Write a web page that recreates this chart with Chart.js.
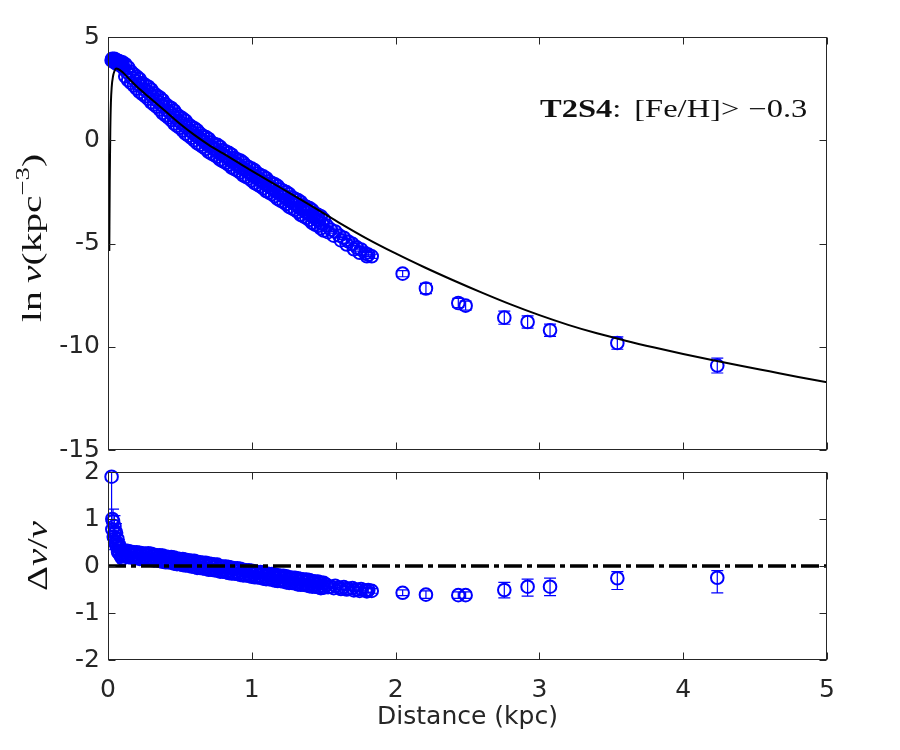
<!DOCTYPE html>
<html>
<head>
<meta charset="utf-8">
<script src="https://cdn.jsdelivr.net/npm/chart.js@4.4.1/dist/chart.umd.min.js"></script>
<style>
  html, body { margin: 0; padding: 0; background: #fff; }
  #wrap { position: relative; width: 900px; height: 750px; }
  canvas { position: absolute; left: 0; top: 0; }
</style>
</head>
<body>
<div id="wrap">
  <canvas id="topChart" width="900" height="750"></canvas>
  <canvas id="botChart" width="900" height="750"></canvas>
</div>
<script>
// distance of each measured bin (kpc)
const dist = [
  0.025, 0.035, 0.04, 0.045, 0.05, 0.055, 0.065, 0.07, 0.075, 0.085, 0.09, 0.095, 0.10,
  0.11, 0.13, 0.15, 0.17, 0.19, 0.21, 0.23, 0.25, 0.27, 0.29, 0.31, 0.33, 0.35, 0.37, 0.39,
  0.41, 0.43, 0.45, 0.47, 0.49, 0.51, 0.53, 0.55, 0.57, 0.59, 0.61, 0.63, 0.65, 0.67, 0.69,
  0.71, 0.73, 0.75, 0.77, 0.79, 0.81, 0.83, 0.85, 0.87, 0.89, 0.91, 0.93, 0.95, 0.97, 0.99,
  1.01, 1.03, 1.05, 1.07, 1.09, 1.11, 1.13, 1.15, 1.17, 1.19, 1.21, 1.23, 1.25, 1.27, 1.29,
  1.31, 1.33, 1.35, 1.37, 1.39, 1.41, 1.43, 1.45, 1.47, 1.49,
  1.52, 1.55, 1.58, 1.61, 1.64, 1.67, 1.70, 1.73, 1.76, 1.79,
  1.81, 1.834,
  2.049, 2.211, 2.436, 2.487, 2.756, 2.918, 3.074, 3.542, 4.237
];
// ln nu (kpc^-3)
const lnNu = [
  3.88, 3.92, 3.80, 3.90, 3.76, 3.88, 3.86, 3.72, 3.84, 3.80, 3.62, 3.74, 3.56,
  3.49, 3.31, 3.19, 3.01, 2.89, 2.72, 2.64, 2.47, 2.39, 2.23, 2.13, 1.97, 1.87, 1.71, 1.62,
  1.45, 1.36, 1.20, 1.10, 0.94, 0.85, 0.70, 0.62, 0.46, 0.38, 0.23, 0.17, 0.02, -0.05, -0.20,
  -0.25, -0.39, -0.44, -0.57, -0.63, -0.76, -0.82, -0.96, -1.00, -1.15, -1.19, -1.34, -1.39, -1.52, -1.58,
  -1.72, -1.76, -1.90, -1.96, -2.10, -2.14, -2.28, -2.34, -2.48, -2.52, -2.67, -2.71, -2.87, -2.91, -3.06,
  -3.09, -3.25, -3.29, -3.45, -3.48, -3.64, -3.68, -3.84, -3.87, -4.05,
  -4.13, -4.33, -4.42, -4.62, -4.72, -4.90, -5.02, -5.19, -5.29, -5.48,
  -5.54, -5.62,
  -6.46, -7.18, -7.88, -8.01, -8.59, -8.80, -9.20, -9.82, -10.91
];
const lnNuErr = [
  0, 0, 0, 0, 0, 0, 0, 0, 0, 0, 0, 0, 0,
  0, 0, 0, 0, 0, 0, 0, 0, 0, 0, 0, 0, 0, 0, 0,
  0, 0, 0, 0, 0, 0, 0, 0, 0, 0, 0, 0, 0, 0, 0,
  0, 0, 0, 0, 0, 0, 0, 0, 0, 0, 0, 0, 0, 0, 0,
  0, 0, 0, 0, 0, 0, 0, 0, 0, 0, 0, 0, 0, 0, 0,
  0, 0, 0, 0, 0, 0, 0, 0, 0, 0,
  0.08, 0.08, 0.08, 0.08, 0.08, 0.08, 0.08, 0.08, 0.08, 0.08,
  0.10, 0.10,
  0.15, 0.25, 0.22, 0.22, 0.32, 0.30, 0.30, 0.30, 0.36
];
// relative residual delta nu / nu
const resid = [
  1.90, 0.95, 0.62, 0.85, 0.50, 0.72, 0.58, 0.30, 0.46, 0.38, 0.20, 0.32, 0.16,
  0.30, 0.24, 0.27, 0.22, 0.25, 0.20, 0.24, 0.19, 0.23, 0.18, 0.21, 0.16, 0.19, 0.14, 0.17,
  0.12, 0.15, 0.10, 0.13, 0.08, 0.11, 0.06, 0.09, 0.04, 0.07, 0.02, 0.05, 0.00, 0.03, -0.02,
  0.01, -0.04, -0.01, -0.06, -0.03, -0.08, -0.05, -0.10, -0.07, -0.12, -0.09, -0.14, -0.11, -0.16, -0.13,
  -0.18, -0.15, -0.20, -0.17, -0.22, -0.19, -0.24, -0.21, -0.26, -0.23, -0.28, -0.25, -0.30, -0.27, -0.32,
  -0.29, -0.34, -0.31, -0.36, -0.33, -0.38, -0.35, -0.40, -0.37, -0.42,
  -0.40, -0.44, -0.42, -0.46, -0.45, -0.48, -0.47, -0.50, -0.49, -0.52,
  -0.51, -0.53,
  -0.57, -0.61, -0.62, -0.62, -0.51, -0.44, -0.44, -0.26, -0.25
];
const residErrLow = [
  1.10, 0.26, 0.20, 0.22, 0.15, 0.18, 0.12, 0.08, 0.10, 0.08, 0.05, 0.06, 0.05,
  0, 0, 0, 0, 0, 0, 0, 0, 0, 0, 0, 0, 0, 0, 0,
  0, 0, 0, 0, 0, 0, 0, 0, 0, 0, 0, 0, 0, 0, 0,
  0, 0, 0, 0, 0, 0, 0, 0, 0, 0, 0, 0, 0, 0, 0,
  0, 0, 0, 0, 0, 0, 0, 0, 0, 0, 0, 0, 0, 0, 0,
  0, 0, 0, 0, 0, 0, 0, 0, 0, 0,
  0.04, 0.04, 0.04, 0.04, 0.04, 0.04, 0.04, 0.04, 0.04, 0.04,
  0.05, 0.05,
  0.06, 0.08, 0.07, 0.07, 0.17, 0.20, 0.19, 0.24, 0.32
];
const residErrHigh = [
  1.10, 0.26, 0.20, 0.22, 0.15, 0.18, 0.12, 0.08, 0.10, 0.08, 0.05, 0.06, 0.05,
  0, 0, 0, 0, 0, 0, 0, 0, 0, 0, 0, 0, 0, 0, 0,
  0, 0, 0, 0, 0, 0, 0, 0, 0, 0, 0, 0, 0, 0, 0,
  0, 0, 0, 0, 0, 0, 0, 0, 0, 0, 0, 0, 0, 0, 0,
  0, 0, 0, 0, 0, 0, 0, 0, 0, 0, 0, 0, 0, 0, 0,
  0, 0, 0, 0, 0, 0, 0, 0, 0, 0,
  0.04, 0.04, 0.04, 0.04, 0.04, 0.04, 0.04, 0.04, 0.04, 0.04,
  0.05, 0.05,
  0.06, 0.08, 0.07, 0.07, 0.16, 0.16, 0.18, 0.14, 0.15
];

// further lines of sight in the dense inner region (scatter around the main band)
const extraDist = [
  0.03, 0.06, 0.08, 0.10,
  0.12, 0.14, 0.16, 0.18, 0.20, 0.22, 0.24, 0.26, 0.28, 0.30, 0.32, 0.34, 0.36, 0.38, 0.40,
  0.42, 0.44, 0.46, 0.48, 0.50, 0.52, 0.54, 0.56, 0.58, 0.60, 0.62, 0.64, 0.66, 0.68, 0.70,
  0.72, 0.74, 0.76, 0.78, 0.80, 0.82, 0.84, 0.86, 0.88, 0.90, 0.92, 0.94, 0.96, 0.98, 1.00,
  1.02, 1.04, 1.06, 1.08, 1.10, 1.12, 1.14, 1.16, 1.18, 1.20, 1.22, 1.24, 1.26, 1.28, 1.30,
  1.32, 1.34, 1.36, 1.38, 1.40, 1.42, 1.44, 1.46, 1.48, 1.50,
  1.53, 1.57, 1.62, 1.66, 1.71, 1.75, 1.80
];
const extraLnNu = [
  3.95, 3.70, 3.66, 3.78,
  3.68, 2.91, 3.32, 2.65, 3.08, 2.34, 2.77, 2.13, 2.59, 1.84, 2.27, 1.62, 2.07, 1.32, 1.75,
  1.10, 1.56, 0.81, 1.24, 0.60, 1.05, 0.32, 0.76, 0.12, 0.58, -0.14, 0.32, -0.32, 0.16, -0.56,
  -0.10, -0.72, -0.22, -0.94, -0.48, -1.09, -0.61, -1.32, -0.86, -1.47, -0.98, -1.70, -1.23, -1.85, -1.37,
  -2.08, -1.61, -2.23, -1.75, -2.46, -1.99, -2.61, -2.13, -2.84, -2.38, -2.99, -2.51, -3.23, -2.76, -3.37,
  -2.89, -3.61, -3.15, -3.76, -3.28, -4.00, -3.54, -4.15, -3.68, -4.37,
  -4.45, -4.62, -4.85, -5.05, -5.28, -5.45, -5.62
];
const extraResid = [
  0.78, 0.42, 0.26, 0.25,
  0.33, 0.19, 0.30, 0.18, 0.29, 0.15, 0.27, 0.15, 0.27, 0.13, 0.24, 0.12, 0.23, 0.09, 0.20,
  0.08, 0.19, 0.05, 0.16, 0.04, 0.15, 0.01, 0.12, -0.01, 0.11, -0.04, 0.08, -0.05, 0.07, -0.08,
  0.04, -0.09, 0.03, -0.12, -0.01, -0.13, -0.02, -0.16, -0.05, -0.17, -0.06, -0.20, -0.09, -0.21, -0.10,
  -0.24, -0.13, -0.25, -0.14, -0.28, -0.17, -0.29, -0.18, -0.32, -0.21, -0.33, -0.22, -0.36, -0.25, -0.37,
  -0.26, -0.40, -0.29, -0.41, -0.30, -0.44, -0.33, -0.45, -0.35, -0.46,
  -0.45, -0.47, -0.49, -0.50, -0.52, -0.53, -0.54
];

const extra2Dist = [
  0.03, 0.045, 0.06, 0.08, 0.10,
  0.12, 0.14, 0.16, 0.18, 0.20, 0.22, 0.24, 0.26, 0.28, 0.30, 0.32, 0.34, 0.36, 0.38, 0.40,
  0.42, 0.44, 0.46, 0.48, 0.50, 0.52, 0.54, 0.56, 0.58, 0.60, 0.62, 0.64, 0.66, 0.68, 0.70,
  0.72, 0.74, 0.76, 0.78, 0.80, 0.82, 0.84, 0.86, 0.88, 0.90, 0.92, 0.94, 0.96, 0.98, 1.00,
  1.02, 1.04, 1.06, 1.08, 1.10, 1.12, 1.14, 1.16, 1.18, 1.20, 1.22, 1.24, 1.26, 1.28, 1.30,
  1.32, 1.34, 1.36, 1.38, 1.40, 1.42, 1.44, 1.46, 1.48, 1.50
];
const extra2LnNu = [
  3.85, 3.95, 3.82, 3.75, 3.65,
  3.10, 3.53, 2.78, 3.19, 2.50, 2.96, 2.23, 2.67, 2.01, 2.46, 1.73, 2.16, 1.49, 1.94, 1.21,
  1.64, 0.98, 1.43, 0.70, 1.14, 0.47, 0.94, 0.22, 0.66, 0.00, 0.48, -0.22, 0.22, -0.42, 0.06,
  -0.64, -0.18, -0.80, -0.32, -1.02, -0.55, -1.19, -0.70, -1.40, -0.93, -1.56, -1.08, -1.77, -1.31, -1.95,
  -1.46, -2.15, -1.69, -2.33, -1.84, -2.53, -2.07, -2.71, -2.22, -2.92, -2.45, -3.09, -2.61, -3.30, -2.83,
  -3.47, -2.99, -3.69, -3.22, -3.86, -3.38, -4.08, -3.61, -4.26, -3.83
];
const extra2Resid = [
  1.00, 0.70, 0.50, 0.40, 0.22,
  0.21, 0.32, 0.18, 0.29, 0.17, 0.28, 0.15, 0.26, 0.15, 0.26, 0.12, 0.23, 0.11, 0.22, 0.08,
  0.19, 0.07, 0.18, 0.04, 0.15, 0.02, 0.13, 0.01, 0.11, -0.02, 0.09, -0.04, 0.07, -0.06, 0.05,
  -0.08, 0.03, -0.10, -0.01, -0.12, -0.01, -0.15, -0.04, -0.16, -0.05, -0.19, -0.08, -0.20, -0.09, -0.23,
  -0.12, -0.24, -0.13, -0.27, -0.16, -0.28, -0.17, -0.31, -0.20, -0.32, -0.21, -0.35, -0.24, -0.36, -0.25,
  -0.39, -0.28, -0.40, -0.29, -0.43, -0.32, -0.44, -0.33, -0.47, -0.36
];

// best fit model curve
const modelDist = [0.009, 0.012, 0.016, 0.02, 0.026, 0.035, 0.045, 0.056, 0.07, 0.1, 0.15, 0.2, 0.3, 0.4, 0.5,
  0.6, 0.7, 0.8, 0.9, 1.0, 1.2, 1.4, 1.6, 1.8, 2.0, 2.2, 2.4, 2.6, 2.8, 3.0, 3.2, 3.4, 3.6, 3.8, 4.0,
  4.2, 4.4, 4.6, 4.8, 5.0];
const modelLnNu = [-5.36, -2.0, 0.5, 1.8, 2.6, 3.1, 3.35, 3.47, 3.45, 3.3, 2.95, 2.6, 2.0, 1.4, 0.8,
  0.26, -0.22, -0.64, -1.06, -1.48, -2.3, -3.12, -3.96, -4.76, -5.48, -6.15, -6.78, -7.38, -7.95, -8.47,
  -8.94, -9.35, -9.71, -10.04, -10.35, -10.64, -10.92, -11.19, -11.46, -11.72];

const zeroLineX = [0, 5];
const zeroLineY = [0, 0];

const xTicks = [0, 1, 2, 3, 4, 5];
const yTicksTop = [-15, -10, -5, 0, 5];
const yTicksBot = [-2, -1, 0, 1, 2];

const AXIS_COLOR = '#262626';
const BLUE = '#0000ff';
const SERIF = '"Liberation Serif", "DejaVu Serif", serif';

Chart.defaults.font.family = '"DejaVu Sans", sans-serif';
Chart.defaults.font.size = 25;
Chart.defaults.color = AXIS_COLOR;

function toXY(xs, ys) {
  return xs.map((x, i) => ({ x: x, y: ys[i] }));
}

// vertical error bars with caps, clipped to the axes box
function makeErrorBars(xs, ys, lo, hi) {
  return {
    id: 'errorBars',
    beforeDatasetsDraw(chart) {
      const { ctx, chartArea: a, scales } = chart;
      ctx.save();
      ctx.beginPath();
      ctx.rect(a.left, a.top, a.right - a.left, a.bottom - a.top);
      ctx.clip();
      ctx.strokeStyle = BLUE;
      ctx.lineWidth = 1.2;
      xs.forEach((d, i) => {
        if (!lo[i] && !hi[i]) return;
        const px = scales.x.getPixelForValue(d);
        const pt = scales.y.getPixelForValue(ys[i] + hi[i]);
        const pb = scales.y.getPixelForValue(ys[i] - lo[i]);
        ctx.beginPath();
        ctx.moveTo(px, pt); ctx.lineTo(px, pb);
        ctx.moveTo(px - 6, pt); ctx.lineTo(px + 6, pt);
        ctx.moveTo(px - 6, pb); ctx.lineTo(px + 6, pb);
        ctx.stroke();
      });
      ctx.restore();
    }
  };
}

// box around the axes with inward ticks on all four sides
function makeFrame(yTicks) {
  return {
    id: 'frame',
    afterDraw(chart) {
      const { ctx, chartArea: a, scales } = chart;
      const L = Math.round(a.left) + 0.5, R = Math.round(a.right) - 0.5;
      const T = Math.round(a.top) + 0.5, B = Math.round(a.bottom) - 0.5;
      ctx.save();
      ctx.strokeStyle = AXIS_COLOR;
      ctx.lineWidth = 1;
      ctx.strokeRect(L, T, R - L, B - T);
      ctx.beginPath();
      xTicks.forEach(v => {
        const px = Math.round(scales.x.getPixelForValue(v)) + 0.5;
        ctx.moveTo(px, B); ctx.lineTo(px, B - 7);
        ctx.moveTo(px, T); ctx.lineTo(px, T + 7);
      });
      yTicks.forEach(v => {
        const py = Math.round(scales.y.getPixelForValue(v)) + 0.5;
        ctx.moveTo(L, py); ctx.lineTo(L + 7, py);
        ctx.moveTo(R, py); ctx.lineTo(R - 7, py);
      });
      ctx.stroke();
      ctx.restore();
    }
  };
}

function piecesWidth(ctx, pieces) {
  let w = 0;
  pieces.forEach(p => { ctx.font = p.font; w += ctx.measureText(p.t).width + (p.gap || 0); });
  return w;
}

function drawPieces(ctx, pieces, x, y, sx, rotate) {
  ctx.save();
  ctx.translate(x, y);
  if (rotate) ctx.rotate(-Math.PI / 2);
  ctx.scale(sx, 1);
  ctx.fillStyle = '#111';
  ctx.textBaseline = 'alphabetic';
  ctx.textAlign = 'left';
  let cx = 0;
  pieces.forEach(p => {
    ctx.font = p.font;
    ctx.fillText(p.t, cx, p.dy || 0);
    cx += ctx.measureText(p.t).width + (p.gap || 0);
  });
  ctx.restore();
}

// rotated y title centred on cy, stretched to a given length
function drawYTitle(ctx, pieces, bx, cy, len) {
  const w = piecesWidth(ctx, pieces);
  drawPieces(ctx, pieces, bx, cy + len / 2, len / w, true);
}

const topLabels = {
  id: 'topLabels',
  afterDraw(chart) {
    const ctx = chart.ctx;
    drawYTitle(ctx, [
      { t: 'ln', font: '28px ' + SERIF, gap: 6 },
      { t: 'ν', font: 'italic 28px ' + SERIF },
      { t: '(kpc', font: '28px ' + SERIF },
      { t: '−3', font: '19px ' + SERIF, dy: -12 },
      { t: ')', font: '28px ' + SERIF }
    ], 41, 238, 168);
    drawPieces(ctx, [
      { t: 'T2S4', font: 'bold 25px ' + SERIF },
      { t: ':', font: '25px ' + SERIF, gap: 10 },
      { t: '[Fe/H]', font: '25px ' + SERIF },
      { t: '>', font: '25px ' + SERIF, gap: 7 },
      { t: '−0.3', font: '25px ' + SERIF }
    ], 540, 117, 1.3, false);
  }
};

const botLabels = {
  id: 'botLabels',
  afterDraw(chart) {
    drawYTitle(chart.ctx, [
      { t: 'Δ', font: '30px ' + SERIF },
      { t: 'ν', font: 'italic 30px ' + SERIF },
      { t: '/', font: '30px ' + SERIF },
      { t: 'ν', font: 'italic 30px ' + SERIF }
    ], 47, 556, 70);
  }
};

const pointStyle = {
  showLine: false,
  pointStyle: 'circle',
  pointRadius: 6.3,
  pointBorderWidth: 2,
  pointBorderColor: BLUE,
  pointBackgroundColor: 'rgba(0,0,0,0)',
  clip: false
};

function points(xs, ys) {
  return Object.assign({ data: toXY(xs, ys) }, pointStyle);
}

function yScale(min, max, ticks) {
  return {
    type: 'linear', min: min, max: max,
    afterBuildTicks: s => { s.ticks = ticks.map(v => ({ value: v })); },
    ticks: { padding: 8, color: AXIS_COLOR },
    grid: { display: false, drawTicks: false },
    border: { display: false },
    afterFit: s => { s.width = 108; }
  };
}

new Chart(document.getElementById('topChart'), {
  type: 'scatter',
  data: {
    datasets: [
      {
        data: toXY(modelDist, modelLnNu),
        showLine: true, pointRadius: 0, borderColor: '#000', borderWidth: 2,
        cubicInterpolationMode: 'monotone'
      },
      points(dist, lnNu),
      points(extraDist, extraLnNu),
      points(extra2Dist, extra2LnNu)
    ]
  },
  options: {
    responsive: false, animation: false,
    layout: { padding: { top: 37, bottom: 300, right: 73, left: 0 } },
    plugins: { legend: { display: false }, tooltip: { enabled: false } },
    scales: {
      x: { type: 'linear', min: 0, max: 5, display: false },
      y: yScale(-15, 5, yTicksTop)
    }
  },
  plugins: [makeErrorBars(dist, lnNu, lnNuErr, lnNuErr), makeFrame(yTicksTop), topLabels]
});

new Chart(document.getElementById('botChart'), {
  type: 'scatter',
  data: {
    datasets: [
      {
        data: toXY(zeroLineX, zeroLineY),
        showLine: true, pointRadius: 0, borderColor: '#000', borderWidth: 3.5,
        borderDash: [18, 5, 5, 5]
      },
      points(dist, resid),
      points(extraDist, extraResid),
      points(extra2Dist, extra2Resid)
    ]
  },
  options: {
    responsive: false, animation: false,
    layout: { padding: { top: 472, bottom: 0, right: 73, left: 0 } },
    plugins: { legend: { display: false }, tooltip: { enabled: false } },
    scales: {
      x: {
        type: 'linear', min: 0, max: 5,
        afterBuildTicks: s => { s.ticks = xTicks.map(v => ({ value: v })); },
        ticks: { padding: 15, color: AXIS_COLOR },
        grid: { display: false, drawTicks: false },
        border: { display: false },
        title: { display: true, text: 'Distance (kpc)', color: AXIS_COLOR, padding: { top: 0, bottom: 18 } },
        afterFit: s => { s.height = 90; }
      },
      y: yScale(-2, 2, yTicksBot)
    }
  },
  plugins: [makeErrorBars(dist, resid, residErrLow, residErrHigh), makeFrame(yTicksBot), botLabels]
});
</script>
</body>
</html>
